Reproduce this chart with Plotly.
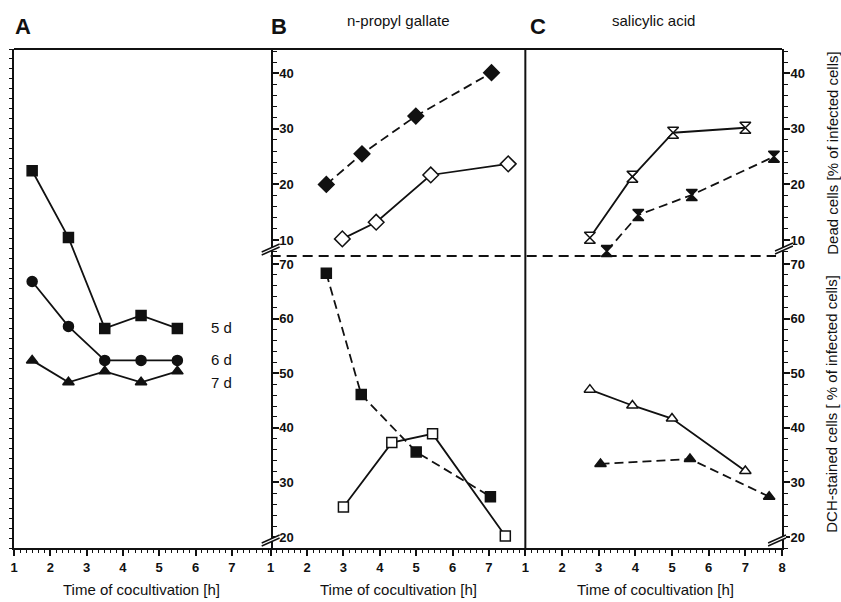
import plotly.graph_objects as go

# ---------------- data ----------------
# Panel A (no y scale shown)
a_x = [1.5, 2.5, 3.5, 4.5, 5.5]
a_5d = [37.8, 31.1, 22.0, 23.3, 22.0]
a_6d = [26.7, 22.2, 18.8, 18.8, 18.8]
a_7d = [18.8, 16.6, 17.7, 16.6, 17.7]
a_labels = ["5 d", "6 d", "7 d"]

# Panel B (n-propyl gallate)
b_dead_fill_x = [2.53, 3.51, 4.99, 7.07]
b_dead_fill_y = [20.0, 25.5, 32.3, 40.1]
b_dead_open_x = [2.97, 3.90, 5.40, 7.53]
b_dead_open_y = [10.2, 13.2, 21.7, 23.7]
b_dch_fill_x = [2.53, 3.49, 5.00, 7.04]
b_dch_fill_y = [68.3, 46.1, 35.6, 27.4]
b_dch_open_x = [3.00, 4.33, 5.45, 7.45]
b_dch_open_y = [25.5, 37.3, 38.9, 20.2]

# Panel C (salicylic acid)
c_dead_open_x = [2.76, 3.92, 5.03, 7.00]
c_dead_open_y = [10.4, 21.4, 29.3, 30.2]
c_dead_fill_x = [3.22, 4.08, 5.54, 7.78]
c_dead_fill_y = [8.0, 14.5, 18.1, 25.0]
c_dch_open_x = [2.76, 3.92, 5.00, 7.00]
c_dch_open_y = [47.0, 44.1, 41.7, 32.1]
c_dch_fill_x = [3.05, 5.49, 7.65]
c_dch_fill_y = [33.4, 34.3, 27.4]

dead_ticks = [10, 20, 30, 40]
dch_ticks = [20, 30, 40, 50, 60, 70]
x_ticks_ab = [1, 2, 3, 4, 5, 6, 7]
x_ticks_c = [1, 2, 3, 4, 5, 6, 7, 8]

# ---------------- layout geometry ----------------
W, H = 841, 602
L, T, R, B = 10, 49, 59, 54
PW, PH = W - L - R, H - T - B
def px(x):
    return (x - L) / PW
def py(y):
    return (T + PH - y) / PH

dA = [0, px(268)]
dB = [px(268), px(524)]
dC = [px(524), 1]
split = py(256)

FONT = "Liberation Sans, Arial, sans-serif"
BLACK = "#111111"
DASH = "9px,5px"

fig = go.Figure()

def add(x, y, xa, ya, symbol, filled, dash, size=10):
    fig.add_trace(go.Scatter(
        x=x, y=y, xaxis=xa, yaxis=ya, mode="lines+markers",
        line=dict(color=BLACK, width=1.8, dash=dash),
        marker=dict(symbol=symbol, size=size,
                    color=BLACK if filled else "white",
                    line=dict(color=BLACK, width=1.5)),
        cliponaxis=False, showlegend=False, hoverinfo="skip"))

# Panel A
add(a_x, a_5d, "x", "y", "square", True, "solid", 10)
add(a_x, a_6d, "x", "y", "circle", True, "solid", 10)
add(a_x, a_7d, "x", "y", "triangle-up", True, "solid", 10)
# Panel B
add(b_dead_fill_x, b_dead_fill_y, "x2", "y2", "diamond", True, DASH, 12)
add(b_dead_open_x, b_dead_open_y, "x2", "y2", "diamond", False, "solid", 12)
add(b_dch_fill_x, b_dch_fill_y, "x2", "y3", "square", True, DASH, 10)
add(b_dch_open_x, b_dch_open_y, "x2", "y3", "square", False, "solid", 10)
# Panel C
add(c_dead_open_x, c_dead_open_y, "x3", "y4", "hourglass", False, "solid", 11)
add(c_dead_fill_x, c_dead_fill_y, "x3", "y4", "hourglass", True, DASH, 11)
add(c_dch_open_x, c_dch_open_y, "x3", "y5", "triangle-up", False, "solid", 10)
add(c_dch_fill_x, c_dch_fill_y, "x3", "y5", "triangle-up", True, DASH, 10)

tickfont = dict(family=FONT, size=13, color=BLACK, weight="bold")

def xax(domain, anchor, rng, tickvals):
    return dict(domain=domain, anchor=anchor, range=rng, tickvals=tickvals,
                showline=True, linecolor=BLACK, linewidth=2, ticks="outside",
                ticklen=6, tickwidth=1.5, tickcolor=BLACK, showgrid=False,
                zeroline=False, tickfont=tickfont,
                minor=dict(dtick=1/6, ticks="outside", ticklen=3,
                           tickwidth=1.2, tickcolor=BLACK, showgrid=False))

def yax(domain, anchor, rng, tickvals):
    # axes drawn on the right side of their anchor panel (B axes sit on A's right edge)
    return dict(domain=domain, anchor=anchor, range=rng, tickvals=tickvals,
                side="right", showline=True, linecolor=BLACK, linewidth=2,
                ticks="outside", ticklen=6, tickwidth=1.5, tickcolor=BLACK,
                showgrid=False, zeroline=False, tickfont=tickfont,
                ticklabelstandoff=-2,
                minor=dict(dtick=2, ticks="outside", ticklen=4, tickwidth=1.2,
                           tickcolor=BLACK, showgrid=False))

annotations = []
def text(x, y, s, size=12, angle=0, bold=False, xanchor="center"):
    annotations.append(dict(
        x=px(x), y=py(y), xref="paper", yref="paper", text=s, showarrow=False,
        textangle=angle, xanchor=xanchor, yanchor="middle",
        font=dict(family=FONT, size=size, color=BLACK,
                  weight="bold" if bold else "normal")))

text(19, 27, "A", 22, bold=True)
text(276, 27, "B", 22, bold=True)
text(537, 27, "C", 22, bold=True)
text(397, 21, "n-propyl gallate", 15)
text(653, 21, "salicylic acid", 15)
for cx in (138, 397, 655):
    text(cx, 589, "Time of cocultivation [h]", 15)
text(832, 153, "Dead cells [% of infected cells]", 15, angle=-90)
text(832, 404, "DCH-stained cells [ % of infected cells]", 15, angle=-90)
for lab, yy in zip(a_labels, [327, 359, 382]):
    text(219, yy, lab, 15)

shapes = []
def seg(x0, y0, x1, y1, width=2, dash="solid"):
    shapes.append(dict(type="line", xref="paper", yref="paper",
                       x0=px(x0), y0=py(y0), x1=px(x1), y1=py(y1),
                       line=dict(color=BLACK, width=width, dash=dash)))

seg(10, 49, 782, 49)            # top frame
seg(524, 49, 524, 548)          # B | C divider
seg(268, 256, 776, 256, 1.8, "10px,6px")  # dashed section divider
for cx, cy in [(268, 249), (268, 540), (784, 248), (777, 540)]:
    shapes.append(dict(type="path", xref="paper", yref="paper",
                       path="M {} {} L {} {} L {} {} L {} {} Z".format(
                           px(cx - 9), py(cy + 3), px(cx + 9), py(cy - 5),
                           px(cx + 9), py(cy - 2), px(cx - 9), py(cy + 6)),
                       fillcolor="white", line=dict(width=0)))
    seg(cx - 9, cy + 3, cx + 9, cy - 5, 1.4)
    seg(cx - 9, cy + 6, cx + 9, cy - 2, 1.4)

fig.update_layout(
    width=W, height=H, margin=dict(l=L, r=R, t=T, b=B),
    plot_bgcolor="white", paper_bgcolor="white",
    font=dict(family=FONT, color=BLACK),
    xaxis=xax(dA, "y", [1, 8.07], x_ticks_ab),
    xaxis2=xax(dB, "y3", [1, 8], x_ticks_ab),
    xaxis3=xax(dC, "y5", [1, 8], x_ticks_c),
    yaxis=dict(domain=[0, 1], anchor="x", range=[0, 50], showline=True,
               linecolor=BLACK, linewidth=2, ticks="outside", ticklen=3,
               tickwidth=1.2, tickcolor=BLACK, dtick=1, showticklabels=False,
               showgrid=False, zeroline=False),
    yaxis2=yax([split, 1], "x", [7.12, 44.37], dead_ticks),
    yaxis3=yax([0, split], "x", [18, 71.47], dch_ticks),
    yaxis4=yax([split, 1], "x3", [7.12, 44.37], dead_ticks),
    yaxis5=yax([0, split], "x3", [18, 71.47], dch_ticks),
    annotations=annotations, shapes=shapes,
)

fig.write_html("out.html", config={"displayModeBar": False},
               post_script="document.body.style.margin='0';"
                           "document.body.style.overflow='hidden';")
